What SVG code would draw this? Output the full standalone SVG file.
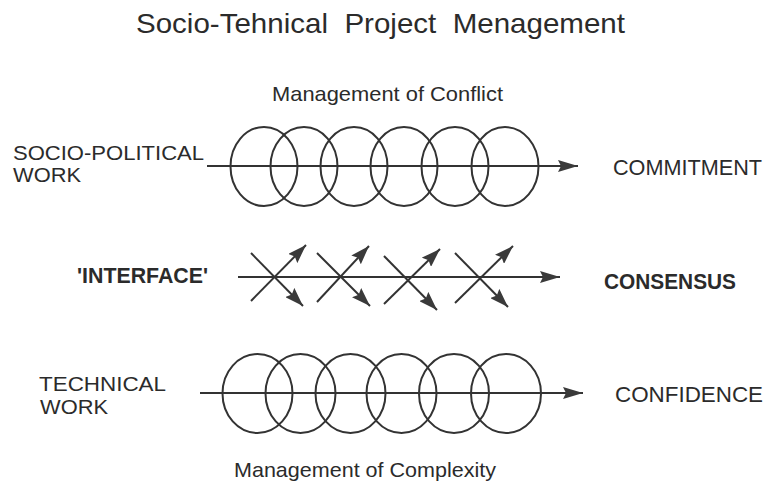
<svg xmlns="http://www.w3.org/2000/svg" width="765" height="483" viewBox="0 0 765 483">
  <defs>
    <marker id="arrowL" markerUnits="userSpaceOnUse" markerWidth="22" markerHeight="12" refX="20" refY="6" orient="auto">
      <path d="M0,0 L20,6 L0,12 L3,6 z" fill="#3a3a3a"/>
    </marker>
    <marker id="arrowS" markerUnits="userSpaceOnUse" markerWidth="20" markerHeight="13" refX="19" refY="6.5" orient="auto">
      <path d="M0,0 L19,6.5 L0,13 L3,6.5 z" fill="#3a3a3a"/>
    </marker>
    <style>
      text { font-family: "Liberation Sans", Arial, Helvetica, sans-serif; fill: #2b2b2b; }
      .title { font-size: 28px; }
      .sub { font-size: 21px; }
      .lbl { font-size: 22px; }
      .lbl2 { font-size: 19.5px; }
      .bold { font-weight: bold; }
      .ring { fill: none; stroke: #333; stroke-width: 2; }
      .axis { stroke: #333; stroke-width: 2; fill: none; }
      .xarm { stroke: #333; stroke-width: 2; fill: none; }
    </style>
  </defs>
  <rect width="765" height="483" fill="#ffffff"/>

  <g id="title">
    <text class="title" x="136" y="33" textLength="489" lengthAdjust="spacingAndGlyphs" xml:space="preserve">Socio-Tehnical  Project  Menagement</text>
  </g>
  <g id="label-conflict">
    <text class="sub" x="272" y="101" textLength="231" lengthAdjust="spacingAndGlyphs">Management of Conflict</text>
  </g>
  <g id="label-complexity">
    <text class="sub" x="234" y="477" textLength="262" lengthAdjust="spacingAndGlyphs">Management of Complexity</text>
  </g>

  <g id="socio-political-work">
    <text class="lbl2" x="13" y="160" textLength="191" lengthAdjust="spacingAndGlyphs">SOCIO-POLITICAL</text>
    <text class="lbl2" x="13" y="182" textLength="68" lengthAdjust="spacingAndGlyphs">WORK</text>
  </g>
  <g id="interface">
    <text class="lbl bold" x="77" y="283" textLength="131" lengthAdjust="spacingAndGlyphs">'INTERFACE'</text>
  </g>
  <g id="technical-work">
    <text class="lbl2" x="39" y="391" textLength="127" lengthAdjust="spacingAndGlyphs">TECHNICAL</text>
    <text class="lbl2" x="40" y="414" textLength="68" lengthAdjust="spacingAndGlyphs">WORK</text>
  </g>
  <g id="commitment">
    <text class="lbl" x="613" y="175" textLength="149" lengthAdjust="spacingAndGlyphs">COMMITMENT</text>
  </g>
  <g id="consensus">
    <text class="lbl bold" x="604" y="289" textLength="132" lengthAdjust="spacingAndGlyphs">CONSENSUS</text>
  </g>
  <g id="confidence">
    <text class="lbl" x="615" y="402" textLength="148" lengthAdjust="spacingAndGlyphs">CONFIDENCE</text>
  </g>

  <g id="socio-political-cycles">
    <ellipse class="ring" cx="264" cy="166.5" rx="33.5" ry="39.5"/>
    <ellipse class="ring" cx="304" cy="166.5" rx="33.5" ry="39.5"/>
    <ellipse class="ring" cx="354" cy="166.5" rx="33.5" ry="39.5"/>
    <ellipse class="ring" cx="404" cy="166.5" rx="33.5" ry="39.5"/>
    <ellipse class="ring" cx="455" cy="166.5" rx="33.5" ry="39.5"/>
    <ellipse class="ring" cx="505" cy="166.5" rx="33.5" ry="39.5"/>
  </g>
  <g id="technical-cycles">
    <ellipse class="ring" cx="257.5" cy="393.5" rx="35" ry="39.5"/>
    <ellipse class="ring" cx="300.5" cy="393.5" rx="35" ry="39.5"/>
    <ellipse class="ring" cx="350.5" cy="393.5" rx="35" ry="39.5"/>
    <ellipse class="ring" cx="401.5" cy="393.5" rx="35" ry="39.5"/>
    <ellipse class="ring" cx="454" cy="393.5" rx="35" ry="39.5"/>
    <ellipse class="ring" cx="506" cy="393.5" rx="35" ry="39.5"/>
  </g>

  <g id="connectors">
    <line class="axis" x1="207" y1="166" x2="578" y2="166" marker-end="url(#arrowL)"/>
    <line class="axis" x1="238" y1="277" x2="560" y2="277" marker-end="url(#arrowL)"/>
    <line class="axis" x1="200" y1="393" x2="583" y2="393" marker-end="url(#arrowL)"/>

    <line class="xarm" x1="251" y1="301" x2="306" y2="245" marker-end="url(#arrowS)"/>
    <line class="xarm" x1="251" y1="253" x2="303" y2="306" marker-end="url(#arrowS)"/>

    <line class="xarm" x1="317" y1="302" x2="369" y2="246" marker-end="url(#arrowS)"/>
    <line class="xarm" x1="317" y1="253" x2="370" y2="306" marker-end="url(#arrowS)"/>

    <line class="xarm" x1="384" y1="304" x2="440" y2="249" marker-end="url(#arrowS)"/>
    <line class="xarm" x1="384" y1="256" x2="437" y2="310" marker-end="url(#arrowS)"/>

    <line class="xarm" x1="455" y1="303" x2="513" y2="246" marker-end="url(#arrowS)"/>
    <line class="xarm" x1="455" y1="253" x2="508" y2="307" marker-end="url(#arrowS)"/>
  </g>
</svg>
